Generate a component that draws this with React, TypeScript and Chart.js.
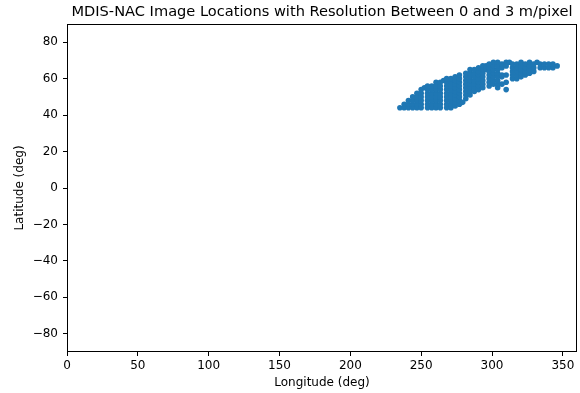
import React, { useEffect, useRef } from "react";
import { Chart, registerables } from "chart.js";

Chart.register(...registerables);

const TITLE = "MDIS-NAC Image Locations with Resolution Between 0 and 3 m/pixel";
const X_LABEL = "Longitude (deg)";
const Y_LABEL = "Latitude (deg)";
const X_TICKS = [0, 50, 100, 150, 200, 250, 300, 350];
const Y_TICKS = [-80, -60, -40, -20, 0, 20, 40, 60, 80];

// Image-centre longitudes (columns) and latitudes found in each column
const LON_COLS = [
  235, 238, 241, 244, 247, 250, 252.3, 254.5, 257.5, 260.5, 263.5, 265.8, 268, 271, 274,
  277, 279.3, 281.5, 284.5, 287.5, 290.5, 293.5, 295.8, 298, 301, 304, 307, 310, 312.3,
  314.5, 317.5, 320.5, 323.5, 326.5, 329.5, 331.8, 334, 337, 340, 343, 346,
];
const LAT_COLS: number[][] = [
  [44],
  [44, 46],
  [44, 46, 48],
  [44, 46, 48, 50],
  [44, 46, 48, 50, 52],
  [44, 46, 48, 50, 52, 54],
  [55],
  [44, 46, 48, 50, 52, 54, 56],
  [44, 46, 48, 50, 52, 54, 56],
  [44, 46, 48, 50, 52, 54, 56, 58],
  [44, 46, 48, 50, 52, 54, 56, 58],
  [59],
  [44, 46, 48, 50, 52, 54, 56, 58, 60],
  [44, 46, 48, 50, 52, 54, 56, 58, 60],
  [45, 47, 49, 51, 53, 55, 57, 59, 61],
  [46, 48, 50, 52, 54, 56, 58, 60, 62],
  [47],
  [49, 51, 53, 55, 57, 59, 61, 63],
  [51, 53, 55, 57, 59, 61, 63, 65],
  [53, 55, 57, 59, 61, 63, 65],
  [54, 56, 58, 60, 62, 64, 66],
  [55, 57, 59, 61, 63, 65, 67],
  [65, 67],
  [56, 58, 60, 62, 64, 66, 68],
  [57, 59, 61, 63, 65, 67, 69],
  [55, 57, 59, 61, 63, 65, 67, 69],
  [57, 61, 62, 66, 68],
  [54, 58, 62, 67, 69],
  [69],
  [60, 62, 64, 66, 68],
  [60, 62, 64, 66, 68],
  [61, 63, 65, 67, 69],
  [62, 64, 66, 68],
  [63, 65, 67, 69],
  [64, 66, 68],
  [69],
  [66, 68],
  [66, 68],
  [66, 68],
  [66, 68],
  [67],
];

const FONT = "'DejaVu Sans', sans-serif";

export default function App() {
  const ref = useRef<HTMLCanvasElement | null>(null);

  useEffect(() => {
    document.body.style.margin = "0";
    const canvas = ref.current;
    if (!canvas) return;

    const points: { x: number; y: number }[] = [];
    LON_COLS.forEach((lon, i) => {
      LAT_COLS[i].forEach((lat) => points.push({ x: lon, y: lat }));
    });

    const framePlugin = {
      id: "frameAndTitle",
      afterDraw(chart: any) {
        const { ctx, chartArea } = chart;
        ctx.save();
        ctx.strokeStyle = "#000";
        ctx.lineWidth = 1;
        ctx.strokeRect(
          Math.round(chartArea.left) + 0.5,
          Math.round(chartArea.top) + 0.5,
          Math.round(chartArea.right - chartArea.left) - 1,
          Math.round(chartArea.bottom - chartArea.top) - 1
        );
        ctx.fillStyle = "#000";
        ctx.font = `14.6px ${FONT}`;
        ctx.textAlign = "center";
        ctx.textBaseline = "middle";
        ctx.fillText(TITLE, (chartArea.left + chartArea.right) / 2, 12);
        ctx.restore();
      },
    };

    const chart = new Chart(canvas, {
      type: "scatter",
      data: {
        datasets: [
          {
            data: points,
            backgroundColor: "#1f77b4",
            borderColor: "#1f77b4",
            borderWidth: 0,
            pointRadius: 2.8,
            pointHoverRadius: 2.8,
          },
        ],
      },
      options: {
        animation: false,
        responsive: false,
        devicePixelRatio: 1,
        events: [],
        layout: { padding: { top: 24, right: 3, left: 0, bottom: 0 } },
        plugins: { legend: { display: false }, tooltip: { enabled: false }, title: { display: false } },
        scales: {
          x: {
            type: "linear",
            min: 0,
            max: 360,
            afterBuildTicks: (s: any) => {
              s.ticks = X_TICKS.map((v) => ({ value: v }));
            },
            afterFit: (s: any) => {
              s.height = 41;
            },
            grid: { display: true, drawOnChartArea: false, drawTicks: true, tickLength: 4, color: "#000", tickColor: "#000" },
            border: { display: false },
            ticks: { color: "#000", font: { family: FONT, size: 12 }, padding: 3, maxRotation: 0, autoSkip: false },
            title: { display: true, text: X_LABEL, color: "#000", font: { family: FONT, size: 12 }, padding: { top: 0, bottom: 3 } },
          },
          y: {
            type: "linear",
            min: -90,
            max: 90,
            afterBuildTicks: (s: any) => {
              s.ticks = Y_TICKS.map((v) => ({ value: v }));
            },
            afterFit: (s: any) => {
              s.width = 67;
            },
            grid: { display: true, drawOnChartArea: false, drawTicks: true, tickLength: 4, color: "#000", tickColor: "#000" },
            border: { display: false },
            ticks: {
              color: "#000",
              font: { family: FONT, size: 12 },
              padding: 5,
              autoSkip: false,
              callback: (v: any) => String(v).replace("-", "\u2212"),
            },
            title: { display: true, text: Y_LABEL, color: "#000", font: { family: FONT, size: 12 }, padding: { top: 13, bottom: 0 } },
          },
        },
      },
      plugins: [framePlugin],
    });

    return () => chart.destroy();
  }, []);

  return (
    <div style={{ width: 580, height: 393 }}>
      <canvas ref={ref} width={580} height={393} style={{ display: "block" }} />
    </div>
  );
}
